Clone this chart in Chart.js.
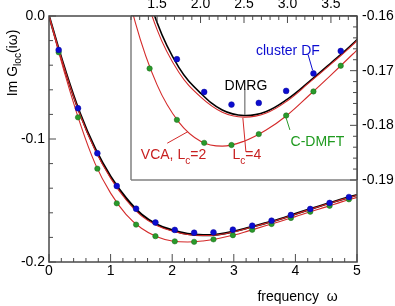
<!DOCTYPE html>
<html>
<head>
<meta charset="utf-8">
<script src="https://cdn.jsdelivr.net/npm/chart.js@4.4.0/dist/chart.umd.min.js"></script>
<style>
  html, body { margin: 0; padding: 0; background: #fff; }
  #wrap { position: relative; width: 395px; height: 306px; }
  #wrap canvas { position: absolute; left: 0; top: 0; }
</style>
</head>
<body>
<div id="wrap">
  <canvas id="mainChart" width="395" height="306"></canvas>
  <canvas id="insetChart" width="395" height="306"></canvas>
</div>
<script>
// Matsubara frequencies where the cluster DF and C-DMFT points sit
const freqPoints = [0.157, 0.471, 0.785, 1.100, 1.414, 1.728, 2.042, 2.356, 2.670, 2.985, 3.299, 3.613, 3.927, 4.241, 4.555, 4.869];
const clusterDF = [-0.0276, -0.0750, -0.1116, -0.1382, -0.1567, -0.1679, -0.1739, -0.1762, -0.1759, -0.1737, -0.1705, -0.1664, -0.1618, -0.1569, -0.1520, -0.1472];
const cdmft = [-0.0295, -0.0824, -0.1241, -0.1523, -0.1696, -0.1790, -0.1832, -0.1836, -0.1816, -0.1782, -0.1738, -0.1691, -0.1642, -0.1591, -0.1543, -0.1490];

// continuous curves (DMRG, VCA Lc=4, VCA Lc=2)
const freqCurve = [0, 0.25, 0.5, 0.75, 1.0, 1.25, 1.5, 1.75, 2.0, 2.25, 2.5, 2.75, 3.0, 3.25, 3.5, 3.75, 4.0, 4.25, 4.5, 4.75, 5.0];
const dmrg  = [0, -0.0420, -0.0788, -0.1080, -0.1305, -0.1480, -0.1612, -0.1694, -0.1741, -0.1772, -0.1782, -0.1775, -0.1752, -0.1720, -0.1686, -0.1651, -0.1609, -0.1568, -0.1529, -0.1491, -0.1455];
const vcaL4 = [0, -0.0425, -0.0797, -0.1092, -0.1318, -0.1494, -0.1625, -0.1703, -0.1748, -0.1776, -0.1785, -0.1778, -0.1755, -0.1722, -0.1688, -0.1653, -0.1611, -0.1570, -0.1531, -0.1493, -0.1457];
const vcaL2 = [0, -0.0458, -0.0865, -0.1202, -0.1440, -0.1612, -0.1726, -0.1794, -0.1829, -0.1838, -0.1829, -0.1809, -0.1781, -0.1745, -0.1708, -0.1670, -0.1631, -0.1590, -0.1552, -0.1511, -0.1474];

// tick labels
const mainXTicks = [0, 1, 2, 3, 4, 5];
const mainYTicks = [0, -0.1, -0.2];
const insetXTicks = [1.5, 2.0, 2.5, 3.0, 3.5];
const insetYTicks = [-0.16, -0.17, -0.18, -0.19];

const FONT = '"Liberation Sans", Arial, sans-serif';
const AXIS = '#4a4a4a';
const RED = '#d42a2a';
const BLUE = '#0c0cd0';
const GREEN = '#2a9a2a';

function xy(xs, ys) {
    return xs.map((x, i) => ({ x: x, y: ys[i] }));
}

function makeDatasets(blackWidth, dotR) {
    return [
        { label: 'cluster DF', data: xy(freqPoints, clusterDF), showLine: false,
          pointRadius: dotR, pointBackgroundColor: BLUE, pointBorderColor: '#08089a', pointBorderWidth: 0.5, order: 0 },
        { label: 'C-DMFT', data: xy(freqPoints, cdmft), showLine: false,
          pointRadius: dotR - 0.2, pointBackgroundColor: GREEN, pointBorderColor: '#1a661a', pointBorderWidth: 0.5, order: 0 },
        { label: 'VCA Lc=4', data: xy(freqCurve, vcaL4), borderColor: RED, borderWidth: 1.1,
          pointRadius: 0, tension: 0.4, order: 1 },
        { label: 'VCA Lc=2', data: xy(freqCurve, vcaL2), borderColor: RED, borderWidth: 1.1,
          pointRadius: 0, tension: 0.4, order: 1 },
        { label: 'DMRG', data: xy(freqCurve, dmrg), borderColor: '#000000', borderWidth: blackWidth,
          pointRadius: 0, tension: 0.4, order: 2 }
    ];
}

function seg(ctx, x1, y1, x2, y2) {
    ctx.beginPath();
    ctx.moveTo(x1, y1);
    ctx.lineTo(x2, y2);
    ctx.stroke();
}

// text with subscript parts: [['Im G'], ['loc', true], ['(iω)']]
function richText(ctx, parts, x, y, size, align) {
    let w = 0;
    parts.forEach(p => {
        ctx.font = (p[1] ? size * 0.72 : size) + 'px ' + FONT;
        w += ctx.measureText(p[0]).width;
    });
    let cx = align === 'center' ? x - w / 2 : x;
    parts.forEach(p => {
        ctx.font = (p[1] ? size * 0.72 : size) + 'px ' + FONT;
        ctx.fillText(p[0], cx, p[1] ? y + size * 0.3 : y);
        cx += ctx.measureText(p[0]).width;
    });
}

const mainFrame = {
    id: 'mainFrame',
    afterDraw(chart) {
        const { ctx, chartArea: a, scales: { x, y } } = chart;
        ctx.save();
        ctx.strokeStyle = AXIS;
        ctx.lineWidth = 1.5;
        ctx.strokeRect(a.left, a.top, a.right - a.left, a.bottom - a.top);
        ctx.lineWidth = 1;
        for (let i = 0; i <= 25; i++) {
            const px = x.getPixelForValue(i * 0.2);
            seg(ctx, px, a.bottom, px, a.bottom - (i % 5 === 0 ? 8 : 4));
        }
        for (let i = 0; i <= 10; i++) {
            const py = y.getPixelForValue(-i * 0.02);
            seg(ctx, a.left, py, a.left + (i % 5 === 0 ? 7 : 4), py);
        }
        ctx.fillStyle = '#000';
        ctx.textBaseline = 'alphabetic';
        ctx.textAlign = 'left';
        richText(ctx, [['frequency  ω']], 297.5, 300.5, 14, 'center');
        ctx.translate(17, 63);
        ctx.rotate(-Math.PI / 2);
        richText(ctx, [['Im G'], ['loc', true], ['(iω)']], 0, 0, 14, 'center');
        ctx.restore();
    }
};

// annotations of the inset, in inset data units
const notes = [
    { parts: [['cluster DF']], color: BLUE, x: 3.005, y: -0.1663, line: [3.238, -0.1671, 3.289, -0.1699], lineColor: BLUE },
    { parts: [['DMRG']], color: '#000', x: 2.522, y: -0.1726, line: [2.510, -0.17335, 2.510, -0.1781], lineColor: '#555' },
    { parts: [['C-DMFT']], color: '#1f9a1f', x: 3.344, y: -0.1829, line: [3.028, -0.18084, 2.982, -0.17852], lineColor: GREEN },
    { parts: [['VCA, L'], ['c', true], ['=2']], color: '#c82020', x: 1.689, y: -0.1853, line: [1.617, -0.18327, 1.855, -0.18115], lineColor: RED },
    { parts: [['L'], ['c', true], ['=4']], color: '#c82020', x: 2.533, y: -0.1853, line: [2.522, -0.18486, 2.487, -0.17865], lineColor: RED }
];

const insetFrame = {
    id: 'insetFrame',
    beforeDraw(chart) {
        const { ctx, chartArea: a } = chart;
        ctx.save();
        ctx.fillStyle = '#fff';
        ctx.fillRect(a.left, a.top, a.right - a.left, a.bottom - a.top);
        ctx.restore();
    },
    afterDraw(chart) {
        const { ctx, chartArea: a, scales: { x, y } } = chart;
        ctx.save();
        ctx.lineWidth = 1;
        notes.forEach(n => {
            ctx.strokeStyle = n.lineColor;
            const l = n.line;
            seg(ctx, x.getPixelForValue(l[0]), y.getPixelForValue(l[1]), x.getPixelForValue(l[2]), y.getPixelForValue(l[3]));
            ctx.fillStyle = n.color;
            ctx.textBaseline = 'alphabetic';
            ctx.textAlign = 'left';
            richText(ctx, n.parts, x.getPixelForValue(n.x), y.getPixelForValue(n.y) + 5, 14, 'center');
        });
        ctx.strokeStyle = '#808080';
        ctx.lineWidth = 1.5;
        seg(ctx, a.left, a.top, a.left, a.bottom);
        seg(ctx, a.left, a.bottom, a.right, a.bottom);
        ctx.strokeStyle = AXIS;
        seg(ctx, a.left, a.top, a.right, a.top);
        seg(ctx, a.right, a.top, a.right, a.bottom);
        ctx.lineWidth = 1;
        for (let i = 12; i <= 38; i++) {
            const px = x.getPixelForValue(i / 10);
            seg(ctx, px, a.top, px, a.top + (i % 5 === 0 ? 7 : 4));
        }
        for (let i = 0; i <= 15; i++) {
            const py = y.getPixelForValue(-0.16 - i * 0.002);
            seg(ctx, a.right, py, a.right - (i % 5 === 0 ? 7 : 4), py);
        }
        ctx.restore();
    }
};

const tickFont = { family: FONT, size: 14 };

new Chart(document.getElementById('mainChart'), {
    type: 'line',
    data: { datasets: makeDatasets(2.2, 2.9) },
    options: {
        responsive: false,
        animation: false,
        layout: { padding: { top: 16, right: 38, left: 0, bottom: 0 } },
        plugins: { legend: { display: false }, tooltip: { enabled: false } },
        scales: {
            x: {
                type: 'linear', min: 0, max: 5,
                grid: { display: false, drawTicks: false }, border: { display: false },
                afterBuildTicks: s => { s.ticks = mainXTicks.map(v => ({ value: v })); },
                afterFit: s => { s.height = 44; },
                ticks: { font: tickFont, color: '#000', padding: 1, maxRotation: 0, callback: v => String(v) }
            },
            y: {
                type: 'linear', min: -0.2, max: 0,
                grid: { display: false, drawTicks: false }, border: { display: false },
                afterBuildTicks: s => { s.ticks = mainYTicks.map(v => ({ value: v })); },
                afterFit: s => { s.width = 49; },
                ticks: { font: tickFont, color: '#000', padding: 4, callback: v => v.toFixed(1) }
            }
        }
    },
    plugins: [mainFrame]
});

new Chart(document.getElementById('insetChart'), {
    type: 'line',
    data: { datasets: makeDatasets(1.6, 2.9).map(d => Object.assign(d, { clip: 0 })) },
    options: {
        responsive: false,
        animation: false,
        layout: { padding: { top: 0, right: 0, left: 131, bottom: 126 } },
        plugins: { legend: { display: false }, tooltip: { enabled: false } },
        scales: {
            x: {
                type: 'linear', position: 'top', min: 1.2, max: 3.8,
                grid: { display: false, drawTicks: false }, border: { display: false },
                afterBuildTicks: s => { s.ticks = insetXTicks.map(v => ({ value: v })); },
                afterFit: s => { s.height = 16; },
                ticks: { font: tickFont, color: '#000', padding: 3, maxRotation: 0, callback: v => v.toFixed(1) }
            },
            y: {
                type: 'linear', position: 'right', min: -0.19, max: -0.16,
                grid: { display: false, drawTicks: false }, border: { display: false },
                afterBuildTicks: s => { s.ticks = insetYTicks.map(v => ({ value: v })); },
                afterFit: s => { s.width = 38; },
                ticks: { font: tickFont, color: '#000', padding: 5, callback: v => v.toFixed(2) }
            }
        }
    },
    plugins: [insetFrame]
});
</script>
</body>
</html>
